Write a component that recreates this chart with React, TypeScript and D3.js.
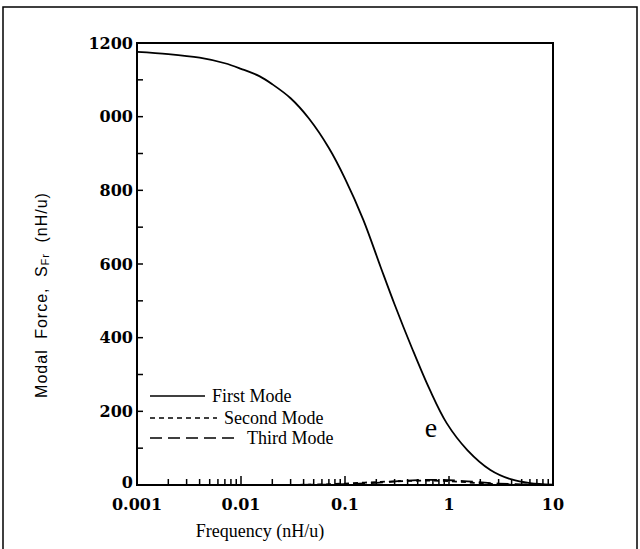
import { useRef, useEffect } from "react";
import * as d3 from "d3";

// First mode
const freqFirst = [0.001, 0.002, 0.004, 0.007, 0.01, 0.015, 0.02, 0.03, 0.045, 0.07, 0.1, 0.15, 0.22, 0.3, 0.44, 0.65, 0.95, 1.5, 2.5, 4, 6, 10];
const forceFirst = [1176, 1170, 1160, 1145, 1130, 1110, 1088, 1050, 995, 915, 832, 720, 592, 490, 372, 260, 168, 95, 41, 15, 5, 1];

// Second / third modes hug the zero line
const freqSecond = [0.001, 0.05, 0.1, 0.2, 0.4, 0.7, 1.2, 2, 4, 10];
const forceSecond = [0, 1, 4, 8, 11, 12, 9, 5, 1, 0];
const freqThird = [0.001, 0.1, 0.2, 0.4, 0.8, 1.5, 3, 10];
const forceThird = [0, 2, 6, 12, 14, 10, 4, 0];

const xTicks = [0.001, 0.01, 0.1, 1, 10];
const xTickLabels = ["0.001", "0.01", "0.1", "1", "10"];
const yTicks = [0, 200, 400, 600, 800, 1000, 1200];
const yTickLabels = ["0", "200", "400", "600", "800", "000", "1200"];

const legendNames = ["First Mode", "Second Mode", "Third Mode"];

export default function App() {
  const svgRef = useRef(null);

  useEffect(() => {
    const svg = d3.select(svgRef.current);
    svg.selectAll("*").remove();

    const W = 640, H = 549;
    const left = 137, right = 553, top = 43, bottom = 485;

    svg.attr("width", W).attr("height", H);

    // outer frame of the figure
    svg.append("rect")
      .attr("x", 3).attr("y", 7)
      .attr("width", 634).attr("height", 580)
      .attr("fill", "none").attr("stroke", "#000").attr("stroke-width", 1.5);

    const x = d3.scaleLog().domain([0.001, 10]).range([left, right]);
    const y = d3.scaleLinear().domain([0, 1200]).range([bottom, top]);

    // plot box
    svg.append("rect")
      .attr("x", left).attr("y", top)
      .attr("width", right - left).attr("height", bottom - top)
      .attr("fill", "none").attr("stroke", "#000").attr("stroke-width", 2);

    // x minor/major ticks, pointing up
    const xMinor = [];
    for (let e = -3; e < 1; e++) {
      for (let m = 2; m <= 9; m++) xMinor.push(m * Math.pow(10, e));
    }
    svg.append("g").selectAll("line")
      .data(xMinor)
      .join("line")
      .attr("x1", (d) => x(d)).attr("x2", (d) => x(d))
      .attr("y1", bottom).attr("y2", bottom - 6)
      .attr("stroke", "#000").attr("stroke-width", 1.5);
    svg.append("g").selectAll("line")
      .data(xTicks)
      .join("line")
      .attr("x1", (d) => x(d)).attr("x2", (d) => x(d))
      .attr("y1", bottom).attr("y2", bottom - 9)
      .attr("stroke", "#000").attr("stroke-width", 1.5);

    // y ticks, pointing right
    const yAll = d3.range(0, 1201, 100);
    svg.append("g").selectAll("line")
      .data(yAll)
      .join("line")
      .attr("x1", left).attr("x2", left + 6)
      .attr("y1", (d) => y(d)).attr("y2", (d) => y(d))
      .attr("stroke", "#000").attr("stroke-width", 1.5);

    const tickFont = "'DejaVu Serif', serif";

    svg.append("g").selectAll("text")
      .data(xTicks)
      .join("text")
      .attr("x", (d) => x(d))
      .attr("y", 510)
      .attr("text-anchor", "middle")
      .attr("font-family", tickFont)
      .attr("font-weight", "bold")
      .attr("font-size", 16)
      .text((d, i) => xTickLabels[i]);

    svg.append("g").selectAll("text")
      .data(yTicks)
      .join("text")
      .attr("x", left - 4)
      .attr("y", (d) => (d === 0 ? y(d) - 3 : y(d)))
      .attr("dy", "0.35em")
      .attr("text-anchor", "end")
      .attr("font-family", tickFont)
      .attr("font-weight", "bold")
      .attr("font-size", 16)
      .text((d, i) => yTickLabels[i]);

    // axis titles
    svg.append("text")
      .attr("x", 260).attr("y", 537)
      .attr("text-anchor", "middle")
      .attr("font-family", "'Liberation Serif', serif")
      .attr("font-size", 18)
      .text("Frequency (nH/u)");

    const yt = svg.append("text")
      .attr("transform", "translate(47,295) rotate(-90)")
      .attr("text-anchor", "middle")
      .attr("font-family", "'Liberation Sans', sans-serif")
      .attr("font-size", 16)
      .attr("letter-spacing", 1)
      .attr("word-spacing", 5);
    yt.append("tspan").text("Modal Force, S");
    yt.append("tspan").attr("font-size", 11).attr("dy", 2).text("Fr");
    yt.append("tspan").attr("dy", -2).text(" (nH/u)");

    // curves
    const line = d3.line()
      .x((d) => x(d[0]))
      .y((d) => y(d[1]))
      .curve(d3.curveCatmullRom.alpha(0.5));

    const series = [
      { f: freqFirst, v: forceFirst, dash: null },
      { f: freqSecond, v: forceSecond, dash: "5,4" },
      { f: freqThird, v: forceThird, dash: "12,6" },
    ];
    series.forEach((s) => {
      svg.append("path")
        .attr("d", line(s.f.map((f, i) => [f, s.v[i]])))
        .attr("fill", "none")
        .attr("stroke", "#000")
        .attr("stroke-width", 1.8)
        .attr("stroke-dasharray", s.dash);
    });

    // legend
    const legY = [396, 418, 438];
    const legEnd = [205, 217, 240];
    const legDash = [null, "5,4", "12,6"];
    legendNames.forEach((name, i) => {
      svg.append("line")
        .attr("x1", 150).attr("x2", legEnd[i])
        .attr("y1", legY[i]).attr("y2", legY[i])
        .attr("stroke", "#000").attr("stroke-width", 1.3)
        .attr("stroke-dasharray", legDash[i]);
      svg.append("text")
        .attr("x", legEnd[i] + 7).attr("y", legY[i])
        .attr("dy", "0.35em")
        .attr("font-family", "'Liberation Serif', serif")
        .attr("font-size", 18)
        .text(name);
    });

    svg.append("text")
      .attr("x", 431).attr("y", 437)
      .attr("text-anchor", "middle")
      .attr("font-family", "'Liberation Serif', serif")
      .attr("font-size", 28)
      .text("e");
  }, []);

  return (
    <div style={{ position: "absolute", left: 0, top: 0, background: "#fff" }}>
      <svg ref={svgRef} style={{ display: "block" }} />
    </div>
  );
}
